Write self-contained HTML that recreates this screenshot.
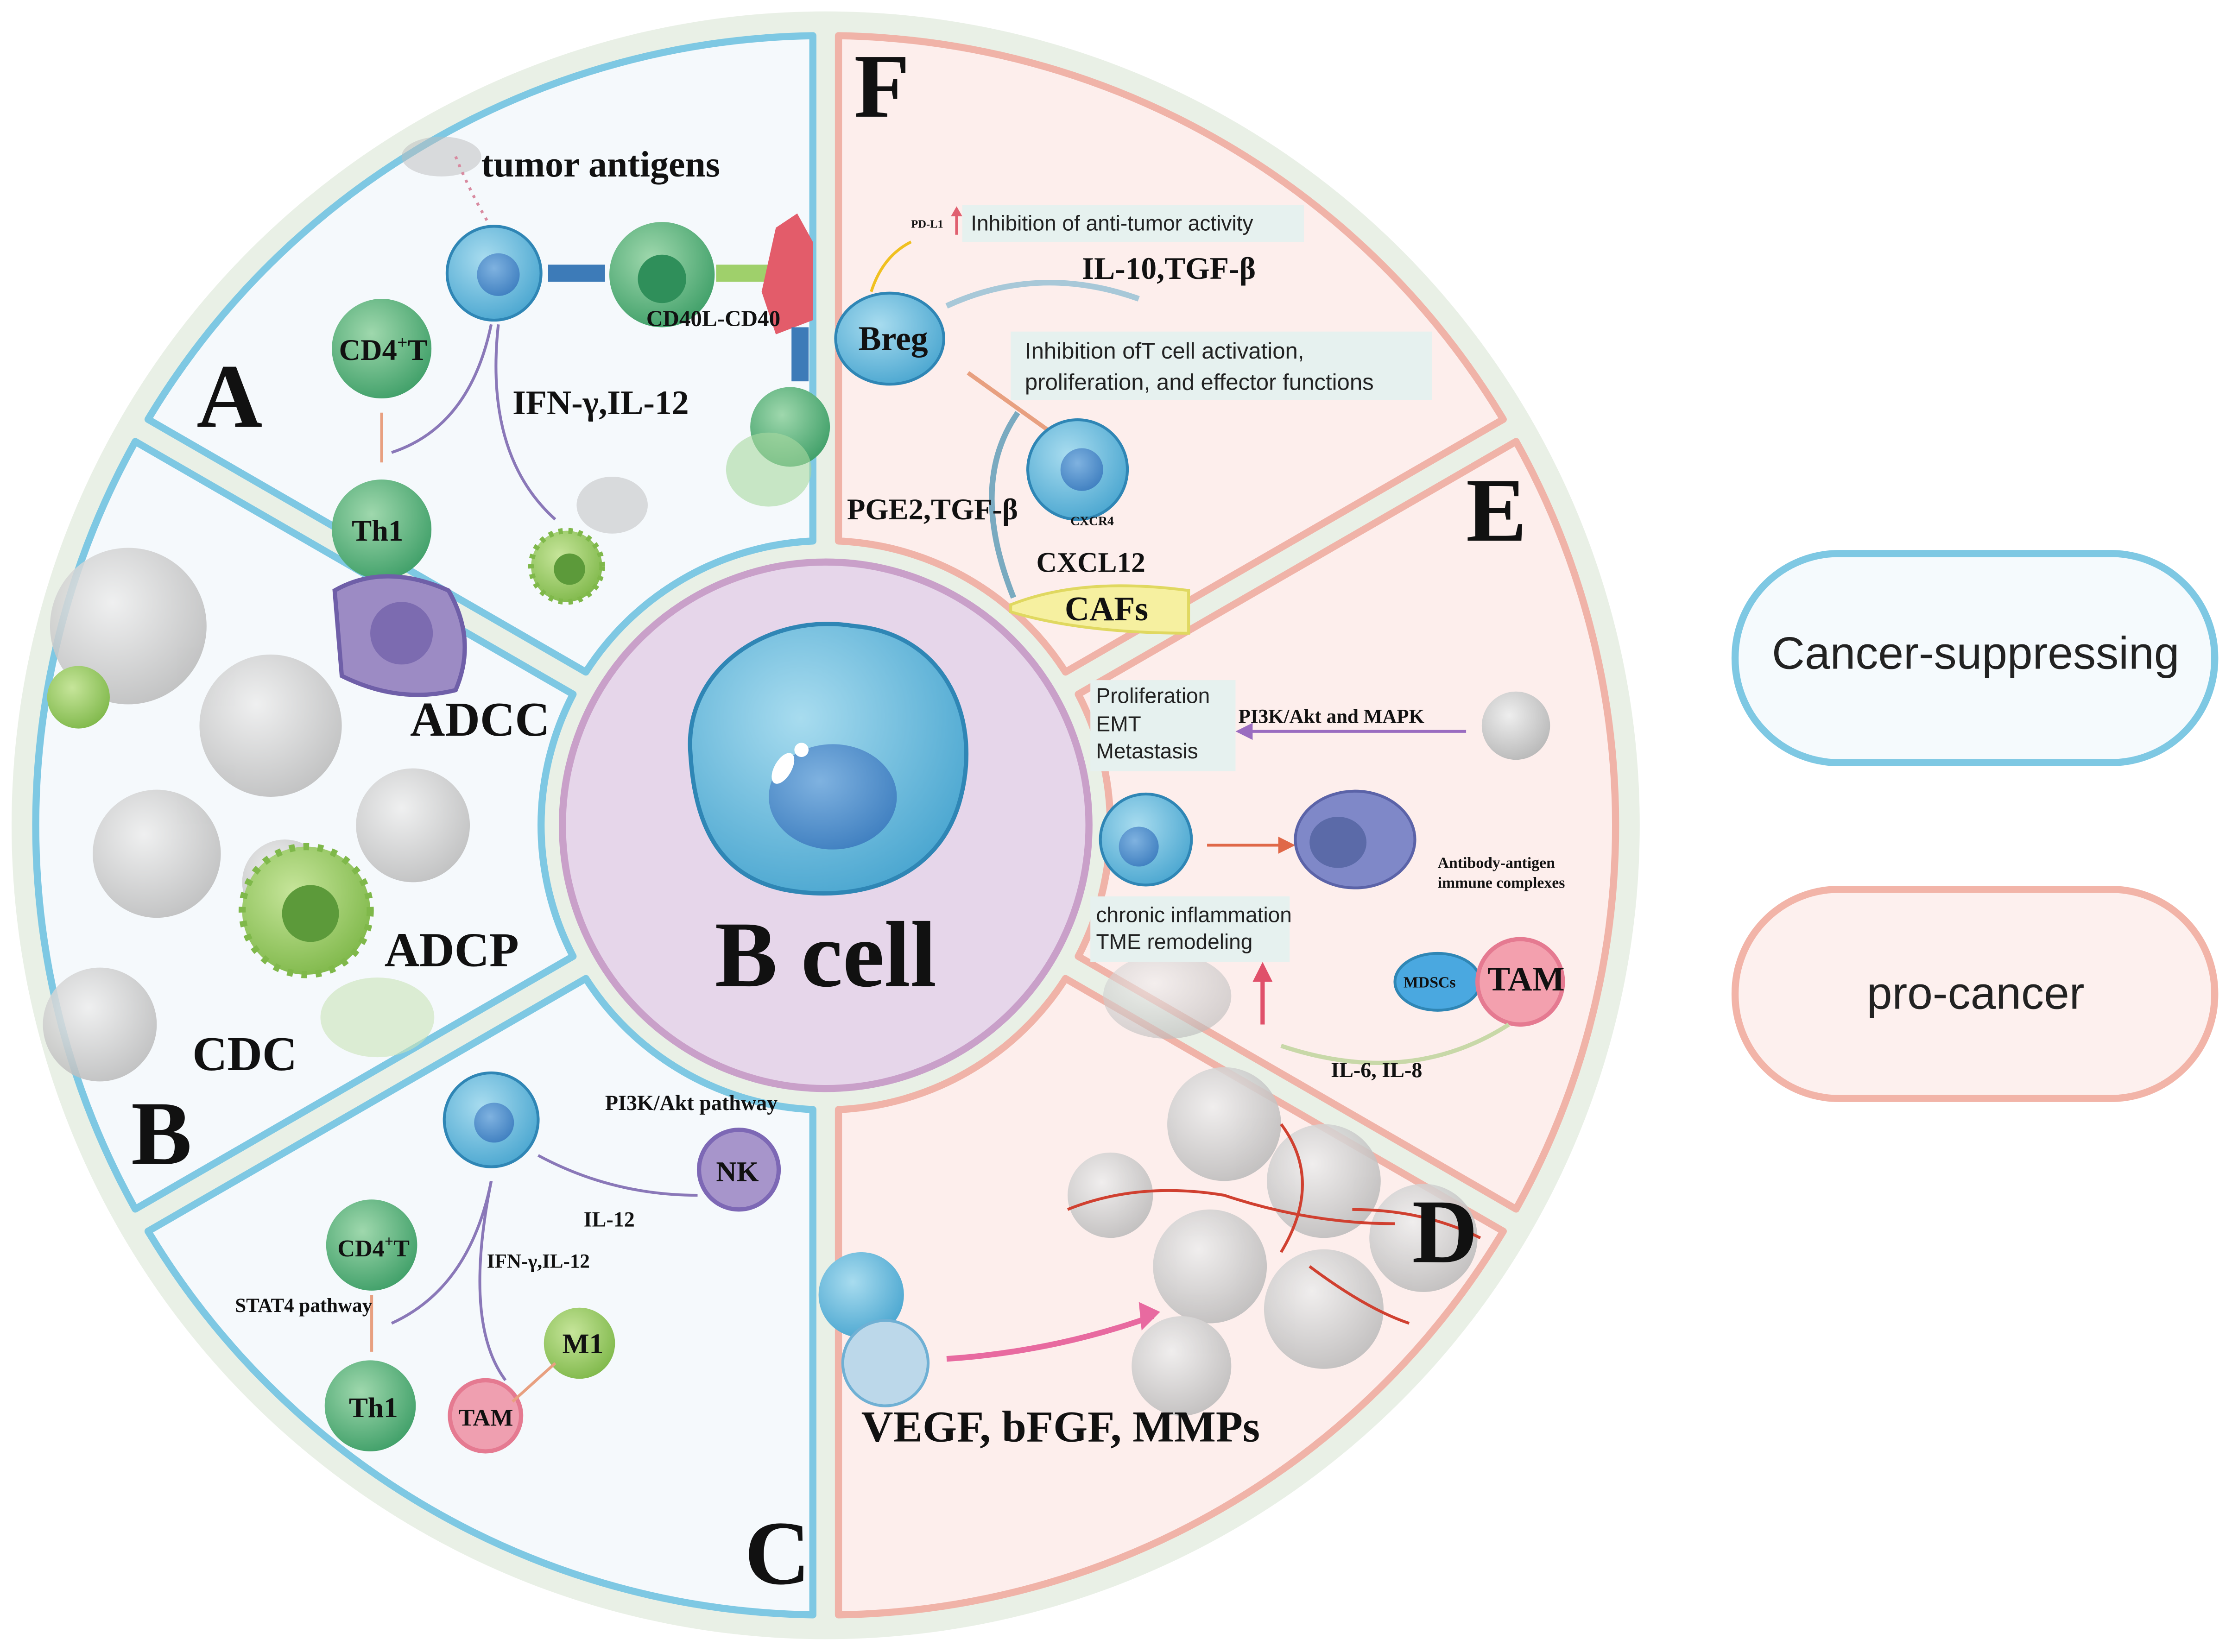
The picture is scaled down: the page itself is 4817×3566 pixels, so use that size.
<!DOCTYPE html>
<html><head><meta charset="utf-8"><style>
html,body{margin:0;padding:0;background:#fff;}
svg{display:block;}
.s{font-family:"Liberation Serif",serif;font-weight:bold;fill:#111;}
.a{font-family:"Liberation Sans",sans-serif;fill:#222;}
</style></head><body>
<svg width="4817" height="3566" viewBox="0 0 1568 1161" xmlns="http://www.w3.org/2000/svg">
<defs>
<radialGradient id="bc" cx="40%" cy="35%" r="70%"><stop offset="0" stop-color="#a8dcef"/><stop offset="1" stop-color="#4aa6d0"/></radialGradient>
<radialGradient id="bn" cx="40%" cy="35%" r="70%"><stop offset="0" stop-color="#7fb2e0"/><stop offset="1" stop-color="#3f7fc0"/></radialGradient>
<radialGradient id="gc" cx="40%" cy="35%" r="70%"><stop offset="0" stop-color="#9fd8ad"/><stop offset="1" stop-color="#3f9f68"/></radialGradient>
<radialGradient id="gy" cx="40%" cy="35%" r="70%"><stop offset="0" stop-color="#eeeeee"/><stop offset="1" stop-color="#b8b8b8"/></radialGradient>
<radialGradient id="lg" cx="40%" cy="35%" r="70%"><stop offset="0" stop-color="#c6e59a"/><stop offset="1" stop-color="#7fb84a"/></radialGradient>
</defs>
<circle cx="580" cy="580" r="572" fill="#e9f0e6"/>
<g stroke-width="5" stroke-linejoin="round">
<path d="M589,25.1 A555,555 0 0 1 1056.1,294.7 L748.5,472.3 A200,200 0 0 0 589,380.2 Z" fill="#fdeeec" stroke="#f0b3a8"/>
<path d="M1065.1,310.3 A555,555 0 0 1 1065.1,849.7 L757.5,672.1 A200,200 0 0 0 757.5,487.9 Z" fill="#fdeeec" stroke="#f0b3a8"/>
<path d="M1056.1,865.3 A555,555 0 0 1 589,1134.9 L589,779.8 A200,200 0 0 0 748.5,687.7 Z" fill="#fdeeec" stroke="#f0b3a8"/>
<path d="M571,1134.9 A555,555 0 0 1 103.9,865.3 L411.5,687.7 A200,200 0 0 0 571,779.8 Z" fill="#f5f9fc" stroke="#7ec8e3"/>
<path d="M94.9,849.7 A555,555 0 0 1 94.9,310.3 L402.5,487.9 A200,200 0 0 0 402.5,672.1 Z" fill="#f5f9fc" stroke="#7ec8e3"/>
<path d="M103.9,294.7 A555,555 0 0 1 571,25.1 L571,380.2 A200,200 0 0 0 411.5,472.3 Z" fill="#f5f9fc" stroke="#7ec8e3"/>
</g>
<circle cx="580" cy="580" r="185" fill="#e6d6ea" stroke="#c9a0c9" stroke-width="5"/>
<path d="M485,530 C480,470 540,430 600,440 C660,445 690,500 675,560 C660,620 600,635 550,625 C505,615 488,580 485,530 Z" fill="url(#bc)" stroke="#2f86b5" stroke-width="3"/>
<ellipse cx="585" cy="560" rx="45" ry="37" fill="url(#bn)"/>
<ellipse cx="550" cy="540" rx="6" ry="12" fill="#fff" transform="rotate(30 550 540)"/>
<circle cx="563" cy="527" r="5" fill="#fff"/>
<text x="580" y="693" text-anchor="middle" class="s" font-size="66">B cell</text>
<g opacity="0.5"><ellipse cx="310" cy="110" rx="28" ry="14" fill="#bbb"/><ellipse cx="430" cy="355" rx="25" ry="20" fill="#bbb"/></g>
<path d="M320,110 Q330,135 345,160" stroke="#d88aa0" stroke-width="2" stroke-dasharray="2 4" fill="none"/>
<circle cx="347" cy="192" r="33" fill="url(#bc)" stroke="#2f86b5" stroke-width="2"/><circle cx="350" cy="193" r="15" fill="url(#bn)"/>
<circle cx="465" cy="193" r="37" fill="url(#gc)"/><circle cx="465" cy="196" r="17" fill="#2f8f5a"/>
<rect x="385" y="186" width="40" height="12" fill="#3d7bb8"/><rect x="503" y="186" width="38" height="12" fill="#9fd06b"/>
<path d="M545,160 L560,150 L571,170 L571,225 L545,235 L535,205 Z" fill="#e35c6a"/>
<rect x="556" y="230" width="12" height="38" fill="#3d7bb8"/>
<circle cx="555" cy="300" r="28" fill="url(#gc)"/>
<ellipse cx="540" cy="330" rx="30" ry="26" fill="#a9d8a0" opacity="0.6"/>
<circle cx="268" cy="245" r="35" fill="url(#gc)"/>
<circle cx="268" cy="372" r="35" fill="url(#gc)"/>
<circle cx="398" cy="398" r="25" fill="url(#lg)" stroke="#7fb84a" stroke-width="4" stroke-dasharray="3 4"/><circle cx="400" cy="400" r="11" fill="#5c9a3a"/>
<path d="M268,290 L268,325" stroke="#e8a080" stroke-width="2" fill="none"/>
<path d="M345,228 Q330,300 275,318" stroke="#8a78b8" stroke-width="2" fill="none"/>
<path d="M350,228 Q340,320 390,365" stroke="#8a78b8" stroke-width="2" fill="none"/>
<text x="338" y="124" class="s" font-size="26">tumor antigens</text>
<text x="238" y="253" class="s" font-size="21">CD4<tspan font-size="13" dy="-8">+</tspan><tspan dy="8">T</tspan></text>
<text x="247" y="380" class="s" font-size="21">Th1</text>
<text x="360" y="291" class="s" font-size="24">IFN-γ,IL-12</text>
<text x="454" y="229" class="s" font-size="16">CD40L-CD40</text>
<text x="138" y="300" class="s" font-size="64">A</text>
<g fill="url(#gy)" opacity="0.85">
<circle cx="90" cy="440" r="55"/><circle cx="190" cy="510" r="50"/><circle cx="290" cy="580" r="40"/><circle cx="110" cy="600" r="45"/><circle cx="70" cy="720" r="40"/><circle cx="200" cy="620" r="30"/>
</g>
<path d="M235,415 Q270,395 315,415 Q335,450 320,485 Q280,495 240,475 Z" fill="#9c8bc4" stroke="#6f5fa8" stroke-width="3"/>
<circle cx="282" cy="445" r="22" fill="#7c6bb0"/>
<circle cx="215" cy="640" r="45" fill="url(#lg)" stroke="#7fb84a" stroke-width="5" stroke-dasharray="4 6"/><circle cx="218" cy="642" r="20" fill="#5c9a3a"/>
<circle cx="55" cy="490" r="22" fill="url(#lg)"/>
<ellipse cx="265" cy="715" rx="40" ry="28" fill="#c9e3b8" opacity="0.6"/>
<text x="288" y="517" class="s" font-size="34">ADCC</text>
<text x="270" y="679" class="s" font-size="34">ADCP</text>
<text x="135" y="752" class="s" font-size="34">CDC</text>
<text x="92" y="818" class="s" font-size="64">B</text>
<circle cx="345" cy="787" r="33" fill="url(#bc)" stroke="#2f86b5" stroke-width="2"/><circle cx="347" cy="789" r="14" fill="url(#bn)"/>
<circle cx="519" cy="822" r="28" fill="#a795cb" stroke="#7d68b5" stroke-width="3"/>
<circle cx="261" cy="875" r="32" fill="url(#gc)"/>
<circle cx="260" cy="988" r="32" fill="url(#gc)"/>
<circle cx="341" cy="995" r="25" fill="#ef9fb0" stroke="#e57a91" stroke-width="3"/>
<circle cx="407" cy="944" r="25" fill="url(#lg)"/>
<path d="M378,812 Q430,840 490,840" stroke="#8a78b8" stroke-width="2" fill="none"/>
<path d="M345,830 Q330,905 275,930" stroke="#8a78b8" stroke-width="2" fill="none"/>
<path d="M345,830 Q325,930 355,970" stroke="#8a78b8" stroke-width="2" fill="none"/>
<path d="M261,910 L261,950" stroke="#e8a080" stroke-width="2"/>
<path d="M360,985 L390,958" stroke="#e8a080" stroke-width="2"/>
<text x="425" y="780" class="s" font-size="15">PI3K/Akt pathway</text>
<text x="503" y="830" class="s" font-size="20">NK</text>
<text x="410" y="862" class="s" font-size="15">IL-12</text>
<text x="342" y="891" class="s" font-size="14">IFN-γ,IL-12</text>
<text x="237" y="883" class="s" font-size="17">CD4<tspan font-size="11" dy="-7">+</tspan><tspan dy="7">T</tspan></text>
<text x="165" y="922" class="s" font-size="14">STAT4 pathway</text>
<text x="245" y="996" class="s" font-size="20">Th1</text>
<text x="322" y="1002" class="s" font-size="17">TAM</text>
<text x="395" y="951" class="s" font-size="20">M1</text>
<text x="523" y="1113" class="s" font-size="64">C</text>
<g fill="url(#gy)" opacity="0.85">
<circle cx="860" cy="790" r="40"/><circle cx="930" cy="830" r="40"/><circle cx="850" cy="890" r="40"/><circle cx="930" cy="920" r="42"/><circle cx="1000" cy="870" r="38"/><circle cx="830" cy="960" r="35"/><circle cx="780" cy="840" r="30"/>
</g>
<path d="M750,850 Q800,830 860,840 Q920,860 980,860 M900,790 Q930,830 900,880 M920,890 Q960,920 990,930 M950,850 Q1000,850 1040,870" stroke="#d04030" stroke-width="2" fill="none"/>
<circle cx="605" cy="910" r="30" fill="url(#bc)"/><circle cx="622" cy="958" r="30" fill="#bcd8ea" stroke="#6fb0d4" stroke-width="2"/>
<path d="M665,955 Q740,950 810,925" stroke="#e86aa0" stroke-width="4" fill="none"/>
<path d="M800,915 L815,922 L802,935 Z" fill="#e86aa0"/>
<text x="605" y="1013" class="s" font-size="31">VEGF, bFGF, MMPs</text>
<text x="992" y="887" class="s" font-size="64">D</text>
<g fill="url(#gy)"><circle cx="1065" cy="510" r="24"/><ellipse cx="820" cy="700" rx="45" ry="30" opacity="0.6"/></g>
<rect x="766" y="478" width="102" height="64" fill="#e6f1ef"/>
<text x="770" y="494" class="a" font-size="15">Proliferation</text>
<text x="770" y="514" class="a" font-size="15">EMT</text>
<text x="770" y="533" class="a" font-size="15">Metastasis</text>
<path d="M1030,514 L875,514" stroke="#9a6cc0" stroke-width="2"/><path d="M868,514 L880,508 L880,520 Z" fill="#9a6cc0"/>
<text x="870" y="508" class="s" font-size="14">PI3K/Akt  and MAPK</text>
<circle cx="805" cy="590" r="32" fill="url(#bc)" stroke="#2f86b5" stroke-width="2"/><circle cx="800" cy="595" r="14" fill="url(#bn)"/>
<path d="M848,594 L903,594" stroke="#e06848" stroke-width="2"/><path d="M910,594 L898,588 L898,600 Z" fill="#e06848"/>
<ellipse cx="952" cy="590" rx="42" ry="34" fill="#7f88c8" stroke="#5b63a8" stroke-width="2"/><ellipse cx="940" cy="592" rx="20" ry="18" fill="#5b6aa8"/>
<text x="1010" y="610" class="s" font-size="11">Antibody-antigen</text>
<text x="1010" y="624" class="s" font-size="11">immune complexes</text>
<rect x="766" y="630" width="140" height="46" fill="#e6f1ef"/>
<text x="770" y="648" class="a" font-size="15">chronic inflammation</text>
<text x="770" y="667" class="a" font-size="15">TME remodeling</text>
<ellipse cx="1010" cy="690" rx="30" ry="20" fill="#4aa8e0" stroke="#2f86b5" stroke-width="2"/>
<circle cx="1068" cy="690" r="30" fill="#f3a0ae" stroke="#e57a91" stroke-width="3"/>
<text x="986" y="694" class="s" font-size="11">MDSCs</text>
<text x="1045" y="696" class="s" font-size="24">TAM</text>
<path d="M1060,720 Q990,765 900,735" stroke="#c8d8a8" stroke-width="3" fill="none"/>
<path d="M887,720 L887,685" stroke="#e0506a" stroke-width="3"/><path d="M887,676 L880,690 L894,690 Z" fill="#e0506a"/>
<text x="935" y="757" class="s" font-size="15">IL-6, IL-8</text>
<text x="1030" y="380" class="s" font-size="64">E</text>
<rect x="676" y="144" width="240" height="26" fill="#e6f1ef"/>
<text x="640" y="160" class="s" font-size="8">PD-L1</text>
<path d="M672,165 L672,150" stroke="#e06070" stroke-width="2"/><path d="M672,145 L668,152 L676,152 Z" fill="#e06070"/>
<text x="682" y="162" class="a" font-size="15">Inhibition of anti-tumor activity</text>
<path d="M612,205 Q620,180 640,170" stroke="#f0c020" stroke-width="2" fill="none"/>
<text x="760" y="196" class="s" font-size="22">IL-10,TGF-β</text>
<path d="M665,215 Q730,185 800,210" stroke="#a8c8d8" stroke-width="4" fill="none"/>
<ellipse cx="625" cy="238" rx="38" ry="32" fill="url(#bc)" stroke="#2f86b5" stroke-width="2"/>
<text x="603" y="246" class="s" font-size="24">Breg</text>
<rect x="710" y="233" width="296" height="48" fill="#e6f1ef"/>
<text x="720" y="252" class="a" font-size="16">Inhibition ofT cell activation,</text>
<text x="720" y="274" class="a" font-size="16">proliferation, and effector functions</text>
<path d="M740,305 L680,262" stroke="#e8a080" stroke-width="3"/>
<circle cx="757" cy="330" r="35" fill="url(#bc)" stroke="#2f86b5" stroke-width="2"/><circle cx="760" cy="330" r="15" fill="url(#bn)"/>
<path d="M712,420 Q680,340 715,290" stroke="#7aaac0" stroke-width="4" fill="none"/>
<text x="752" y="369" class="s" font-size="9">CXCR4</text>
<text x="595" y="365" class="s" font-size="21">PGE2,TGF-β</text>
<text x="728" y="402" class="s" font-size="20">CXCL12</text>
<path d="M710,425 Q760,405 835,415 L835,445 Q760,445 710,430 Z" fill="#f6f0a0" stroke="#e0d860" stroke-width="2"/>
<text x="748" y="436" class="s" font-size="24">CAFs</text>
<text x="600" y="82" class="s" font-size="64">F</text>
<rect x="1219" y="389" width="337" height="147" rx="73" fill="#f5fafd" stroke="#7ec8e3" stroke-width="5"/>
<text x="1388" y="470" text-anchor="middle" class="a" font-size="32" fill="#111">Cancer-suppressing</text>
<rect x="1219" y="625" width="337" height="147" rx="73" fill="#fdf0ee" stroke="#f2b4a8" stroke-width="5"/>
<text x="1388" y="709" text-anchor="middle" class="a" font-size="32" fill="#111">pro-cancer</text>
</svg>
</body></html>
